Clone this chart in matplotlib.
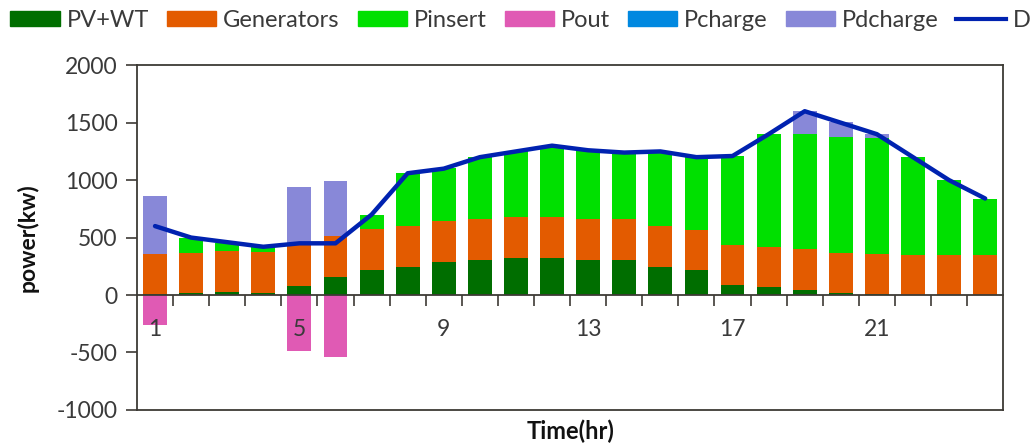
'''
Hourly power balance: stacked sources vs. demand line.
'''
import numpy as np
import matplotlib
matplotlib.use('Agg')
import matplotlib.pyplot as plt
from matplotlib.patches import Patch
from matplotlib.lines import Line2D

plt.rcParams['font.family'] = ['Lato', 'DejaVu Sans']
plt.rcParams['axes.unicode_minus'] = False

hours = np.arange(1, 25)
pv_wt = [5, 15, 30, 20, 80, 160, 220, 248, 285, 306, 326, 326,
         309, 309, 248, 214, 87, 66, 46, 14, 7, 0, 0, 0]
generators = [353, 355, 354, 353, 356, 350, 353, 355, 356, 355, 352, 355,
              352, 355, 349, 350, 350, 356, 352, 355, 351, 346, 346, 346]
pinsert = [0, 130, 66, 49, 0, 0, 127, 462, 464, 539, 574, 615,
           605, 582, 653, 635, 771, 981, 1007, 1005, 1010, 853, 652, 492]
pout = [-262, 0, 0, 0, -486, -539, 0, 0, 0, 0, 0, 0,
        0, 0, 0, 0, 0, 0, 0, 0, 0, 0, 0, 0]
pcharge = [0] * 24
pdcharge = [505, 0, 0, 0, 500, 480, 0, 0, 0, 0, 0, 0,
            0, 0, 0, 0, 0, 0, 196, 128, 35, 0, 0, 0]
demand = [600, 500, 460, 420, 450, 450, 700, 1060, 1100, 1200, 1250, 1300,
          1260, 1240, 1250, 1200, 1210, 1400, 1600, 1500, 1400, 1200, 1000, 840]

xlabels = ['1', '5', '9', '13', '17', '21']
xlabel_pos = [1, 5, 9, 13, 17, 21]

colors = {'PV+WT': '#006e00', 'Generators': '#e35b00', 'Pinsert': '#00e000',
          'Pout': '#e05ab4', 'Pcharge': '#0088e0', 'Pdcharge': '#8888d8'}
line_c = '#0022b0'
axis_c = '#3d3a35'
text_c = '#3a3a3a'

fig = plt.figure(figsize=(10.30, 4.47), dpi=100)
ax = fig.add_axes([0.133, 0.083, 0.841, 0.771])

w = 0.66
bottom = np.zeros(24)
for name, vals in [('PV+WT', pv_wt), ('Generators', generators),
                   ('Pinsert', pinsert), ('Pdcharge', pdcharge)]:
  ax.bar(hours, vals, w, bottom=bottom, color=colors[name], zorder=2)
  bottom += np.array(vals)
ax.bar(hours, pout, w, color=colors['Pout'], zorder=2)
ax.bar(hours, pcharge, w, color=colors['Pcharge'], zorder=2)
ax.plot(hours, demand, color=line_c, lw=3.2, zorder=4, solid_capstyle='round')

ax.set_xlim(0.5, 24.5)
ax.set_ylim(-1000, 2000)
ax.set_yticks(np.arange(-1000, 2001, 500))
ax.tick_params(axis='y', direction='out', length=8, width=1.2, color=axis_c,
               labelsize=16.5, labelcolor=text_c, pad=6)
ax.tick_params(axis='x', bottom=False, labelbottom=False)
for s in ax.spines.values():
  s.set_color(axis_c)
  s.set_linewidth(1.3)

# category axis crossing at zero
zero_frac = (0 - (-1000)) / 3000.0
sec = ax.secondary_xaxis(zero_frac)
sec.set_zorder(6)
sec.spines['bottom'].set_color(axis_c)
sec.spines['bottom'].set_linewidth(1.3)
sec.set_xticks(np.arange(1.5, 24.5, 1.0))
sec.set_xticklabels([])
sec.set_xticks(xlabel_pos, minor=True)
sec.set_xticklabels(xlabels, minor=True)
sec.tick_params(axis='x', which='major', direction='out', length=8, width=1.2, color=axis_c)
sec.tick_params(axis='x', which='minor', length=0, labelsize=16.5, labelcolor=text_c, pad=17)

ax.set_ylabel('power(kw)', fontsize=16.5, fontweight='bold', color='#111111', labelpad=13)
ax.set_xlabel('Time(hr)', fontsize=17, fontweight='bold', color='#111111', labelpad=7)

handles = [Patch(color=colors[k]) for k in ['PV+WT', 'Generators', 'Pinsert',
                                            'Pout', 'Pcharge', 'Pdcharge']]
handles.append(Line2D([], [], color=line_c, lw=3))
labels = ['PV+WT', 'Generators', 'Pinsert', 'Pout', 'Pcharge', 'Pdcharge', 'Demand']
fig.legend(handles, labels, loc='upper left', bbox_to_anchor=(-0.006, 1.014), ncol=7,
           frameon=False, fontsize=17, handlelength=2.1, handleheight=0.6,
           handletextpad=0.28, columnspacing=0.76, labelcolor=text_c,
           borderaxespad=0.3)

plt.savefig('out.png', dpi=100)
